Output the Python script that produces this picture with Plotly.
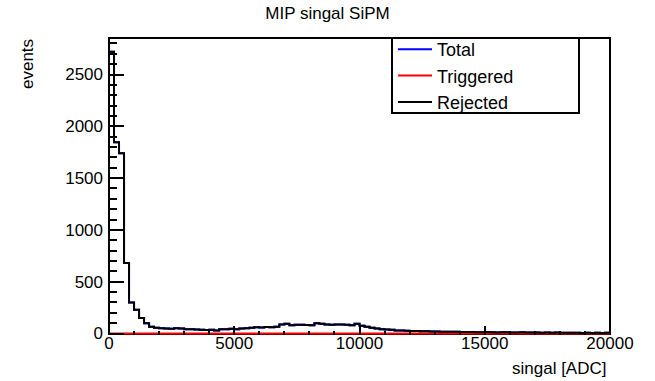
import plotly.graph_objects as go

# Histogram binning: 100 bins of 200 ADC between 0 and 20000
x_min, x_max, n_bins = 0, 20000, 100
bin_width = (x_max - x_min) / n_bins

# Bin contents (events per bin)
rejected = [
    2720, 1845, 1740, 680, 300, 230, 150, 100, 65, 55,
    50, 48, 45, 50, 48, 42, 40, 38, 35, 33,
    35, 30, 40, 42, 45, 40, 48, 50, 55, 60,
    58, 62, 60, 65, 88, 95, 80, 85, 85, 82,
    80, 98, 95, 88, 85, 87, 86, 84, 80, 93,
    75, 65, 55, 48, 42, 38, 35, 30, 28, 26,
    25, 24, 22, 22, 20, 20, 18, 18, 16, 17,
    15, 14, 15, 13, 12, 14, 12, 10, 12, 11,
    10, 9, 11, 10, 9, 10, 8, 9, 8, 9,
    7, 8, 7, 8, 6, 7, 6, 7, 6, 7,
]
triggered = [0] * n_bins
total = [t + r for t, r in zip(triggered, rejected)]

x_ticks = [0, 5000, 10000, 15000, 20000]
y_ticks = [0, 500, 1000, 1500, 2000, 2500]

FONT = "Liberation Sans, Arial, Helvetica, sans-serif"

W, H = 655, 381
L, R, T, B = 109, 45, 38, 46
PW, PH = W - L - R, H - T - B


def px_x(p):
    return (p - L) / PW


def px_y(p):
    return (H - B - p) / PH


def step_outline(values):
    """Outline of a histogram: closed to zero at both ends."""
    edges = [x_min + i * bin_width for i in range(n_bins + 1)]
    xs = [edges[0]] + edges + [edges[-1]]
    ys = [0] + list(values) + [values[-1], 0]
    return xs, ys


fig = go.Figure()
for name, vals, color in [
    ("Total", total, "#0000ff"),
    ("Triggered", triggered, "#ff0000"),
    ("Rejected", rejected, "#000000"),
]:
    xs, ys = step_outline(vals)
    fig.add_trace(go.Scatter(
        x=xs, y=ys, mode="lines", name=name,
        line=dict(color=color, width=2, shape="hv"),
        hoverinfo="skip",
    ))

y_scale = 0.1036  # px per event
y_lo = -1.5 / y_scale
y_hi = y_lo + PH / y_scale

fig.update_xaxes(
    range=[x_min, x_max], tickvals=x_ticks, tickformat="d",
    ticks="inside", ticklen=9, tickwidth=2, tickcolor="black",
    minor=dict(dtick=1000, tick0=0, ticks="inside", ticklen=4.5,
               tickwidth=2, tickcolor="black"),
    showgrid=False, zeroline=False, showline=False,
    ticklabelstandoff=-4,
    tickfont=dict(family=FONT, size=17, color="black"),
)
fig.update_yaxes(
    range=[y_lo, y_hi], tickvals=y_ticks, tickformat="d",
    ticks="inside", ticklen=15, tickwidth=2, tickcolor="black",
    minor=dict(dtick=100, tick0=0, ticks="inside", ticklen=7.5,
               tickwidth=2, tickcolor="black"),
    showgrid=False, zeroline=False, showline=False,
    ticklabelstandoff=5,
    tickfont=dict(family=FONT, size=17, color="black"),
)

# Frame around the plotting area and the legend box
fig.add_shape(type="rect", xref="paper", yref="paper",
              x0=px_x(109), x1=px_x(610), y0=px_y(334), y1=px_y(38),
              line=dict(color="black", width=2), layer="below")
fig.add_shape(type="rect", xref="paper", yref="paper",
              x0=px_x(392), x1=px_x(579), y0=px_y(113), y1=px_y(38),
              line=dict(color="black", width=2), fillcolor="white",
              layer="below")

fig.add_annotation(text="singal [ADC]", xref="paper", yref="paper",
                   x=px_x(608), y=px_y(368), xanchor="right", yanchor="middle",
                   showarrow=False, font=dict(family=FONT, size=17, color="black"))
fig.add_annotation(text="events", xref="paper", yref="paper",
                   x=px_x(28), y=px_y(37), xanchor="center", yanchor="top",
                   textangle=-90, showarrow=False,
                   font=dict(family=FONT, size=17, color="black"))

fig.update_layout(
    width=W, height=H,
    margin=dict(l=L, r=R, t=T, b=B),
    paper_bgcolor="white", plot_bgcolor="white",
    title=dict(text="MIP singal SiPM", x=0.5, xref="container",
               y=1 - 13 / H, yref="container", yanchor="middle",
               font=dict(family=FONT, size=17, color="black")),
    legend=dict(x=px_x(393), y=px_y(31), xanchor="left", yanchor="top",
                bgcolor="rgba(0,0,0,0)", borderwidth=0,
                itemwidth=34,
                font=dict(family=FONT, size=18, color="black"),
                tracegroupgap=0),
    showlegend=True,
)

fig.write_html("out.html")
